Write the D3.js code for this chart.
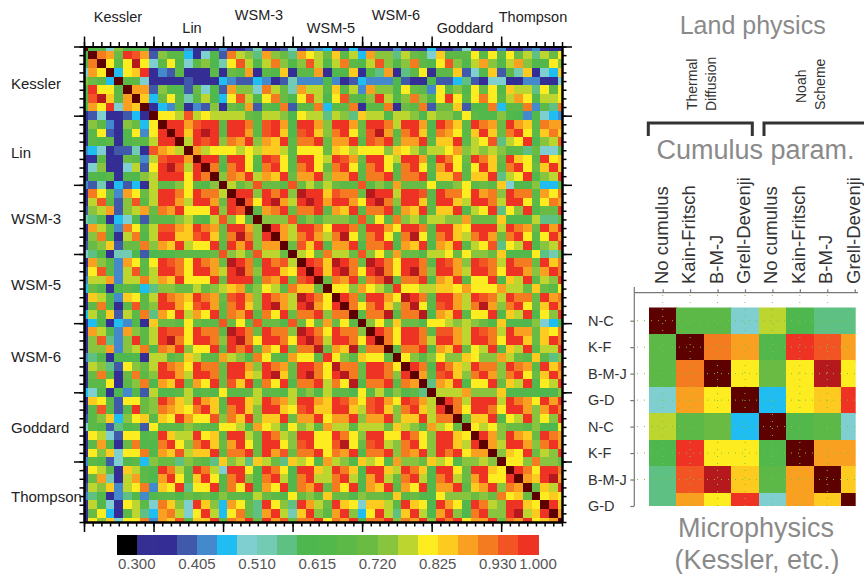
<!DOCTYPE html>
<html lang="en">
<head>
<meta charset="utf-8">
<title>Correlation matrix</title>
<script src="https://d3js.org/d3.v7.min.js" charset="utf-8"></script>
<style>
body { margin: 0; background: #fff; }
svg { display: block; font-family: "Liberation Sans", Arial, sans-serif; }
</style>
</head>
<body>
<svg id="content" width="864" height="574"></svg>
<script type="text/javascript">
// upper triangle of the big matrix, in percent: row i holds columns i+1 .. 55
var corrUpper = [
[63,63,49,74,63,63,63, 35,35,35,35,42,35,35,35, 42,35,35,39,53,35,35,39, 49,35,39,42,46,35,35,46, 35,35,35,35,42,35,35,35, 46,35,35,39,49,35,35,35, 42,35,35,39,42,35,35,35],
[91,88,70,97,95,88, 39,74,67,67,46,35,49,63, 39,91,77,74,56,88,74,70, 56,88,81,77,70,84,67,77, 46,88,74,74,56,77,70,67, 49,84,67,67,67,81,67,81, 67,81,70,77,56,77,70,81],
[81,67,81,98,81, 49,67,81,63,49,67,74,60, 53,81,95,77,63,77,91,74, 63,74,95,77,63,77,91,67, 63,77,95,74,63,74,91,67, 63,81,95,74,63,77,88,74, 63,77,88,74,63,63,81,74],
[46,81,84,97, 35,42,39,67,35,32,35,67, 35,70,67,88,35,67,63,84, 35,67,67,88,35,63,63,84, 35,63,56,88,35,56,67,81, 32,67,67,84,39,49,63,84, 39,67,53,84,35,49,46,84],
[67,67,49, 35,35,35,35,39,35,35,35, 46,42,39,39,46,42,35,39, 53,42,42,42,60,42,35,39, 46,42,42,42,60,39,35,35, 60,39,39,46,56,39,35,49, 49,35,35,42,42,35,35,49],
[88,88, 39,74,63,63,39,70,49,63, 39,88,74,74,49,91,77,70, 53,88,77,77,67,84,67,77, 42,88,74,74,60,81,70,67, 42,81,67,74,63,81,70,81, 63,84,77,77,56,81,67,81],
[84, 46,70,81,67,53,67,77,60, 46,81,95,77,63,81,91,70, 60,81,95,77,60,81,95,67, 63,74,97,77,63,74,91,74, 63,81,97,81,67,81,91,81, 67,77,88,81,63,77,77,81],
[35,46,42,67,35,42,39,74, 35,70,67,88,39,67,63,91, 39,67,67,91,46,67,67,91, 35,67,67,91,35,70,67,91, 39,70,70,84,39,63,63,91, 46,67,67,91,42,67,56,91],
[81,81,77,95,77,81,77, 77,77,77,70,67,77,77,74, 60,81,77,77,56,77,74,56, 84,77,77,63,77,77,74,60, 77,74,74,67,81,67,63,63, 74,63,60,42,63,49,46,42],
[97,97,88,95,97,97, 67,97,97,91,67,95,97,88, 63,97,97,88,74,97,97,88, 70,97,97,91,77,97,97,88, 63,97,91,84,67,97,91,88, 70,97,88,84,67,91,88,88],
[97,84,97,98,97, 67,97,97,88,67,95,97,84, 63,95,97,84,74,91,97,81, 70,95,98,88,67,91,97,84, 63,91,88,81,67,84,97,84, 70,91,97,81,67,84,91,84],
[77,97,95,97, 74,91,88,97,74,88,84,97, 67,91,91,97,70,88,88,97, 67,95,91,97,70,88,88,97, 67,84,84,97,67,77,81,95, 56,77,81,97,60,74,77,95],
[88,77,81, 81,81,77,81,77,84,84,77, 67,81,81,81,70,84,81,77, 81,81,81,74,84,81,77,70, 77,77,81,88,74,77,74,77, 74,67,67,56,70,49,49,67],
[97,97, 67,97,97,81,67,97,95,81, 67,97,97,81,77,97,95,88, 70,97,97,81,77,97,97,88, 63,97,91,81,70,97,91,84, 70,97,84,81,67,97,81,84],
[91, 63,91,97,81,63,91,97,81, 67,91,97,81,70,91,97,81, 67,91,97,81,67,91,97,81, 67,88,97,81,67,81,97,84, 67,91,97,81,70,84,97,84],
[74,91,88,97,77,88,84,97, 70,88,88,97,74,88,88,97, 67,91,91,97,67,91,91,97, 63,84,84,95,67,84,84,97, 56,77,81,97,63,74,77,97],
[77,70,74,95,70,70,67, 95,70,77,70,77,70,67,67, 95,67,74,67,88,70,70,70, 81,67,67,74,81,67,70,67, 84,49,63,63,74,46,46,67],
[97,97,74,97,91,97, 74,98,97,97,84,95,91,91, 70,98,97,97,77,97,97,95, 67,97,91,91,81,97,88,91, 74,97,91,91,67,88,81,91],
[95,81,97,98,88, 77,97,98,97,88,97,97,88, 81,97,98,91,74,97,97,84, 67,97,97,84,77,97,97,91, 77,97,97,81,67,81,91,88],
[67,88,91,97, 70,91,91,97,67,88,84,97, 67,91,91,97,63,88,84,97, 67,84,84,97,63,77,81,97, 56,81,74,97,63,70,70,97],
[74,74,74, 95,67,74,67,74,74,74,67, 95,70,81,67,91,74,77,67, 77,77,74,74,88,70,70,70, 84,63,63,63,77,56,56,70],
[97,88, 77,97,97,91,81,97,97,91, 70,97,97,88,81,97,97,91, 67,97,97,84,81,97,97,97, 77,97,91,88,70,97,88,97],
[88, 77,91,97,88,77,91,98,81, 70,91,97,81,67,91,98,81, 67,91,97,84,77,91,97,88, 70,91,97,81,67,81,97,88],
[70,95,84,97,67,88,88,97, 63,91,91,97,63,88,84,97, 63,88,84,97,67,77,81,95, 56,81,77,97,63,74,77,95],
[77,81,70,91,77,77,70, 95,74,81,70,88,70,70,63, 77,77,81,70,81,74,74,70, 84,63,63,63,81,56,53,70],
[97,95,84,98,97,91, 70,98,97,91,81,97,97,91, 67,97,95,88,74,97,95,91, 77,97,91,91,70,97,84,91],
[97,84,97,98,91, 81,97,98,91,81,97,98,91, 74,97,97,88,77,97,97,91, 81,97,97,88,74,88,97,91],
[70,91,88,97, 70,91,95,98,67,91,91,97, 63,88,84,97,67,81,81,97, 60,84,77,97,67,77,74,97],
[81,81,74, 88,81,77,70,97,81,81,77, 77,84,84,81,88,81,81,81, 88,77,77,70,84,70,67,81],
[97,91, 70,97,97,88,81,98,97,91, 67,97,97,88,77,97,95,91, 77,97,91,91,70,97,88,91],
[91, 81,91,97,84,74,91,98,81, 67,95,97,88,77,91,98,88, 74,91,97,81,70,84,97,88],
[67,91,91,98,67,91,91,98, 60,88,84,97,67,81,81,97, 63,84,77,97,63,81,74,97],
[74,81,70,84,70,70,63, 81,81,77,74,77,74,70,63, 84,63,63,60,74,49,46,63],
[97,91,81,97,97,91, 67,95,95,88,77,97,95,91, 77,97,88,88,70,84,81,91],
[91,81,97,97,91, 77,97,97,88,77,97,97,91, 81,97,97,84,70,84,97,91],
[67,91,91,97, 63,88,84,97,70,81,77,97, 63,84,77,97,67,77,77,97],
[81,74,67, 74,81,74,74,84,81,74,74, 88,77,70,67,84,67,56,74],
[97,91, 63,97,91,84,77,97,91,91, 74,97,91,88,67,97,84,91],
[88, 67,95,97,84,74,91,97,88, 74,91,97,81,70,84,97,88],
[56,88,84,97,63,81,81,97, 70,84,77,97,63,81,77,97],
[77,77,77,88,74,74,74, 84,63,63,63,63,60,60,74],
[97,91,77,97,97,97, 77,97,91,88,81,97,88,97],
[91,81,97,97,91, 81,97,97,88,74,88,97,91],
[70,84,84,97, 63,81,77,97,74,81,74,97],
[81,77,81, 74,70,70,67,74,63,60,81],
[97,88, 74,97,88,84,70,97,91,88],
[88, 77,97,97,88,74,91,97,88],
[74,84,81,97,70,77,74,97],
[81,81,74,91,74,74,70],
[97,91,81,97,97,91],
[88,84,97,98,88],
[70,84,77,97],
[81,84,81],
[97,84],
[88]
];

// small matrix on the right, percent
var smallMatrix = [
[100,67,67,49,77,60,56,56],
[67,100,91,88,63,97,95,88],
[67,91,100,81,70,81,98,81],
[49,88,81,100,46,81,84,97],
[77,67,70,46,100,63,67,49],
[60,97,81,81,63,100,88,88],
[56,95,98,84,67,88,100,84],
[56,88,81,97,49,88,84,100]
];

var schemeNames = ["Kessler", "Lin", "WSM-3", "WSM-5", "WSM-6", "Goddard", "Thompson"];
var topLabelX = [118, 192, 259, 331, 396, 465, 533];
var topLabelY = [22, 33, 20, 33, 20, 33, 22];
var leftLabelY = [89, 158, 224, 290, 362, 433, 502];

var cumulusNames = ["No cumulus", "Kain-Fritsch", "B-M-J", "Grell-Devenji", "No cumulus", "Kain-Fritsch", "B-M-J", "Grell-Devenji"];
var microNames = ["N-C", "K-F", "B-M-J", "G-D", "N-C", "K-F", "B-M-J", "G-D"];

// colour bar
var barThresholds = [0.30,0.335,0.37,0.405,0.44,0.475,0.51,0.545,0.58,0.615,0.65,0.685,0.72,0.755,0.79,0.825,0.86,0.895,0.93,0.965];
var barColors = ["#000000","#362f93","#352d96","#4159ab","#4389cc","#1fbdf2","#80cfd0","#74cbb4","#5fc083","#4eb84f","#52b84c","#5cb948","#69bb44","#89c43f","#bdd52f","#fdec20","#fdcb20","#f9a021","#f47b20","#f25423","#ee3324"];
var barTicks = [0.300, 0.405, 0.510, 0.615, 0.720, 0.825, 0.930, 1.000];

// above the bar: very high values go dark red, the diagonal maroon
var color = d3.scaleThreshold()
    .domain(barThresholds.concat([0.98, 0.995]))
    .range(barColors.concat(["#b5191d", "#5c0000"]));

var svg = d3.select("#content");

// ---- big matrix
var x = d3.scaleLinear().domain([0, 55]).range([84, 562]);
var y = d3.scaleLinear().domain([0, 55]).range([46.5, 522]);
var stepX = x(1) - x(0), stepY = y(1) - y(0);

var cells = [];
corrUpper.forEach(function(row, i) {
    cells.push({i: i, j: i, v: 1});
    row.forEach(function(p, k) {
        var j = i + 1 + k;
        cells.push({i: i, j: j, v: p / 100});
        cells.push({i: j, j: i, v: p / 100});
    });
});
cells.push({i: 55, j: 55, v: 1});

svg.append("clipPath").attr("id", "bigClip").append("rect")
    .attr("x", x(0)).attr("y", y(0))
    .attr("width", x(55) - x(0)).attr("height", y(55) - y(0));

svg.append("g").attr("clip-path", "url(#bigClip)")
    .attr("shape-rendering", "crispEdges")
    .selectAll("rect").data(cells).enter().append("rect")
    .attr("x", function(d) { return x(d.j) - stepX / 2; })
    .attr("y", function(d) { return y(d.i) - stepY / 2; })
    .attr("width", stepX + 0.5)
    .attr("height", stepY + 0.5)
    .style("fill", function(d) { return color(d.v); });

var allTicks = d3.range(0, 56), bigTicks = d3.range(0, 56, 8);

function frame(axisFn, scale, tx, ty) {
    var g = svg.append("g").attr("transform", "translate(" + tx + "," + ty + ")");
    g.call(axisFn(scale).tickValues(allTicks).tickSize(4.5).tickSizeOuter(0).tickFormat(""));
    g.append("g").call(axisFn(scale).tickValues(bigTicks).tickSize(10).tickSizeOuter(0).tickFormat(""));
    g.selectAll("path").style("stroke", "#000").style("stroke-width", 2);
    g.selectAll("line").style("stroke", "#000").style("stroke-width", 1.5);
}
frame(d3.axisTop, x, 0, y(0));
frame(d3.axisBottom, x, 0, y(55));
frame(d3.axisLeft, y, x(0), 0);
frame(d3.axisRight, y, x(55), 0);

svg.selectAll(".topName").data(schemeNames).enter().append("text")
    .attr("x", function(d, i) { return topLabelX[i]; })
    .attr("y", function(d, i) { return topLabelY[i]; })
    .attr("text-anchor", "middle")
    .style("font-size", "14.5px").style("fill", "#222")
    .text(function(d) { return d; });

svg.selectAll(".leftName").data(schemeNames).enter().append("text")
    .attr("x", 11)
    .attr("y", function(d, i) { return leftLabelY[i]; })
    .style("font-size", "15px").style("fill", "#222")
    .text(function(d) { return d; });

// ---- colour bar
var barX = d3.scaleLinear().domain([0.265, 1.0]).range([116.7, 538]);
var barEdges = [0.265].concat(barThresholds).concat([1.0]);
svg.append("g").attr("shape-rendering", "crispEdges")
    .selectAll("rect").data(barColors).enter().append("rect")
    .attr("x", function(d, i) { return barX(barEdges[i]); })
    .attr("y", 535)
    .attr("width", function(d, i) { return barX(barEdges[i + 1]) - barX(barEdges[i]) + 0.5; })
    .attr("height", 20)
    .style("fill", function(d) { return d; });

svg.selectAll(".barTick").data(barTicks).enter().append("text")
    .attr("x", function(d) { return barX(d); })
    .attr("y", 569)
    .attr("text-anchor", "middle")
    .style("font-size", "15px").style("fill", "#555")
    .text(function(d) { return d.toFixed(3); });

// ---- small matrix
var sx = d3.scaleLinear().domain([0, 7]).range([662.7, 854.7]);
var sy = d3.scaleLinear().domain([0, 7]).range([320.7, 506]);
var sStepX = sx(1) - sx(0), sStepY = sy(1) - sy(0);

var smallCells = [];
smallMatrix.forEach(function(row, i) {
    row.forEach(function(p, j) { smallCells.push({i: i, j: j, v: p / 100}); });
});

svg.append("clipPath").attr("id", "smallClip").append("rect")
    .attr("x", sx(0) - sStepX / 2).attr("y", sy(0) - sStepY / 2)
    .attr("width", sx(7) - sx(0) + sStepX / 2 + 1).attr("height", sy(7) - sy(0) + sStepY / 2);

svg.append("g").attr("clip-path", "url(#smallClip)")
    .attr("shape-rendering", "crispEdges")
    .selectAll("rect").data(smallCells).enter().append("rect")
    .attr("x", function(d) { return sx(d.j) - sStepX / 2; })
    .attr("y", function(d) { return sy(d.i) - sStepY / 2; })
    .attr("width", sStepX + 0.5)
    .attr("height", sStepY + 0.5)
    .style("fill", function(d) { return color(d.v); });

// dotted guides
var guides = svg.append("g")
    .style("stroke", "#7fc241").style("stroke-width", 1).style("stroke-dasharray", "1,6");
guides.selectAll(".gx").data(d3.range(0, 7)).enter().append("line")
    .attr("x1", function(d) { return sx(d); }).attr("x2", function(d) { return sx(d); })
    .attr("y1", 295).attr("y2", 506);
guides.selectAll(".gy").data(d3.range(0, 7)).enter().append("line")
    .attr("y1", function(d) { return sy(d); }).attr("y2", function(d) { return sy(d); })
    .attr("x1", 637).attr("x2", 856);

var sTop = svg.append("g").attr("transform", "translate(0,292.7)")
    .call(d3.axisTop(sx).tickValues(d3.range(0, 8)).tickSize(3.5).tickSizeOuter(0).tickFormat(""));
var sLeft = svg.append("g").attr("transform", "translate(634.3,0)")
    .call(d3.axisLeft(sy).tickValues(d3.range(0, 8)).tickSize(4).tickSizeOuter(0).tickFormat(""));
sTop.select("path").attr("d", "M634.3,0H858");
sLeft.select("path").attr("d", "M0,287V506");
[sTop, sLeft].forEach(function(g) {
    g.selectAll("path,line").style("stroke", "#777").style("stroke-width", 1.2);
});

svg.selectAll(".microName").data(microNames).enter().append("text")
    .attr("x", 588)
    .attr("y", function(d, i) { return sy(i) + 5; })
    .style("font-size", "14.5px").style("fill", "#333")
    .text(function(d) { return d; });

svg.selectAll(".cumName").data(cumulusNames).enter().append("text")
    .attr("transform", function(d, i) { return "translate(" + (sx(i) + 5) + ",284) rotate(-90)"; })
    .style("font-size", "18.5px").style("fill", "#333")
    .text(function(d) { return d; });

// ---- land scheme labels and brackets
var landLabels = [
    {t: "Thermal", x: 697, y: 110},
    {t: "Diffusion", x: 716, y: 111},
    {t: "Noah", x: 806, y: 103},
    {t: "Scheme", x: 825, y: 110}
];
svg.selectAll(".land").data(landLabels).enter().append("text")
    .attr("transform", function(d) { return "translate(" + d.x + "," + d.y + ") rotate(-90)"; })
    .style("font-size", "14px").style("fill", "#333")
    .text(function(d) { return d.t; });

var brackets = ["M648.3,136V123H752.3V136", "M764,136V123H864"];
svg.selectAll(".bracket").data(brackets).enter().append("path")
    .attr("d", function(d) { return d; })
    .style("fill", "none").style("stroke", "#333").style("stroke-width", 3);

var titles = [
    {t: "Land physics", x: 752.7, y: 34, s: 25},
    {t: "Cumulus param.", x: 755.5, y: 159, s: 27},
    {t: "Microphysics", x: 756, y: 537, s: 27},
    {t: "(Kessler, etc.)", x: 757, y: 569, s: 27}
];
svg.selectAll(".title").data(titles).enter().append("text")
    .attr("x", function(d) { return d.x; })
    .attr("y", function(d) { return d.y; })
    .attr("text-anchor", "middle")
    .style("font-size", function(d) { return d.s + "px"; })
    .style("fill", "#8a8a8a")
    .text(function(d) { return d.t; });
</script>
</body>
</html>
